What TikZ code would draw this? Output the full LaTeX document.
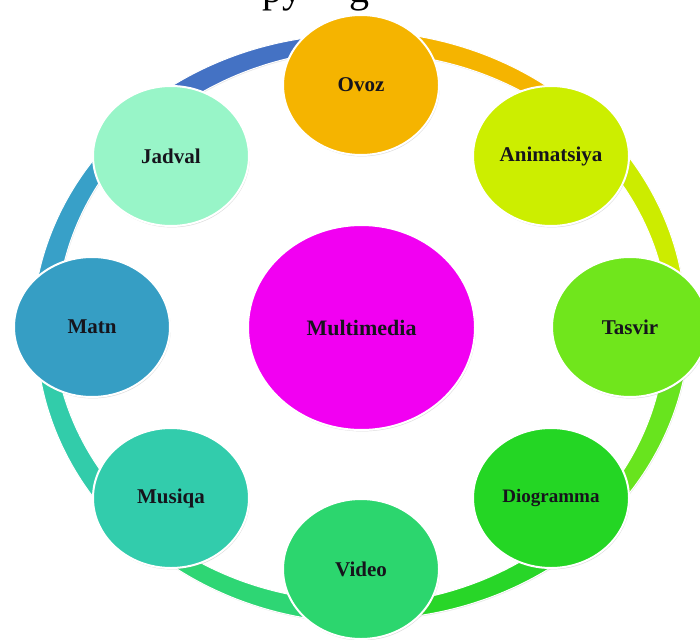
\documentclass[tikz,border=0pt]{standalone}
\usepackage{fontspec}
\setmainfont{Liberation Serif}
\usetikzlibrary{shapes.geometric,shadows}
\definecolor{txt}{RGB}{22,20,28}
\definecolor{cOvoz}{RGB}{245,180,0}
\definecolor{cAnim}{RGB}{204,238,0}
\definecolor{cTasvir}{RGB}{112,230,28}
\definecolor{cDiog}{RGB}{36,214,36}
\definecolor{cVideo}{RGB}{44,214,110}
\definecolor{cMusiqa}{RGB}{50,204,172}
\definecolor{cMatn}{RGB}{54,158,196}
\definecolor{cJadval}{RGB}{152,245,200}
\definecolor{cMulti}{RGB}{242,0,242}
\definecolor{aBlue}{RGB}{68,114,196}
\definecolor{aOrange}{RGB}{245,180,0}
\definecolor{aAnim}{RGB}{204,236,0}
\definecolor{aTasvir}{RGB}{104,228,30}
\definecolor{aDiog}{RGB}{40,214,40}
\definecolor{aVideo}{RGB}{46,214,116}
\definecolor{aMusiqa}{RGB}{50,204,170}
\definecolor{aMatn}{RGB}{56,160,200}
% tapered arc on the outer ring, clockwise from angle #2 over 45 degrees
\newcommand\cyclearc[2]{%
  \fill[#1, draw=white, line width=1pt,
        drop shadow={shadow xshift=0.6pt, shadow yshift=-1pt, opacity=0.25, fill=black!40}]
    plot[domain=0:1, samples=40, smooth]
      ({361+1.11*(285+11-3.5*\x)*cos(#2-45*\x)},{327-(285+11-3.5*\x)*sin(#2-45*\x)})
    -- plot[domain=1:0, samples=40, smooth]
      ({361+1.11*(285-11+3.5*\x)*cos(#2-45*\x)},{327-(285-11+3.5*\x)*sin(#2-45*\x)})
    -- cycle;}
\begin{document}
\begin{tikzpicture}[x=1pt, y=-1pt,
  bub/.style={ellipse, draw=white, line width=2pt, inner sep=0pt,
    minimum width=156pt, minimum height=140pt, text=txt,
    font=\bfseries\fontsize{21}{24}\selectfont,
    drop shadow={shadow xshift=0.8pt, shadow yshift=-1.4pt, opacity=0.3, fill=black!45}},
  big/.style={bub, minimum width=227pt, minimum height=205pt},
  ttl/.style={font=\fontsize{40}{40}\selectfont, text=black, inner sep=0pt, anchor=base west}
]
\useasboundingbox (0,0) rectangle (700,639);
\fill[white] (0,0) rectangle (700,639);

% partly visible title at the top edge
\node[ttl] (title) at (262,3) {py\hspace{47pt}g};

% ring segments
\cyclearc{aBlue}{135}
\cyclearc{aOrange}{90}
\cyclearc{aAnim}{45}
\cyclearc{aTasvir}{0}
\cyclearc{aDiog}{-45}
\cyclearc{aVideo}{-90}
\cyclearc{aMusiqa}{-135}
\cyclearc{aMatn}{180}

% circles
\node[bub, fill=cOvoz]   (ovoz)  at (361,85)    {Ovoz};
\node[bub, fill=cAnim]   (anim)  at (551,156)   {Animatsiya};
\node[bub, fill=cTasvir] (tasvir) at (630,327)  {Tasvir};
\node[bub, fill=cDiog, font=\bfseries\fontsize{19}{22}\selectfont] (diog) at (551,498) {Diogramma};
\node[bub, fill=cVideo]  (video) at (361,569)   {Video};
\node[bub, fill=cMusiqa] (musiqa) at (171,498)  {Musiqa};
\node[bub, fill=cMatn]   (matn)  at (92,327)    {Matn};
\node[bub, fill=cJadval] (jadval) at (171,156)  {Jadval};
\node[big, fill=cMulti, font=\bfseries\fontsize{22}{25}\selectfont] (multi) at (361.5,327.5) {Multimedia};
\end{tikzpicture}
\end{document}
